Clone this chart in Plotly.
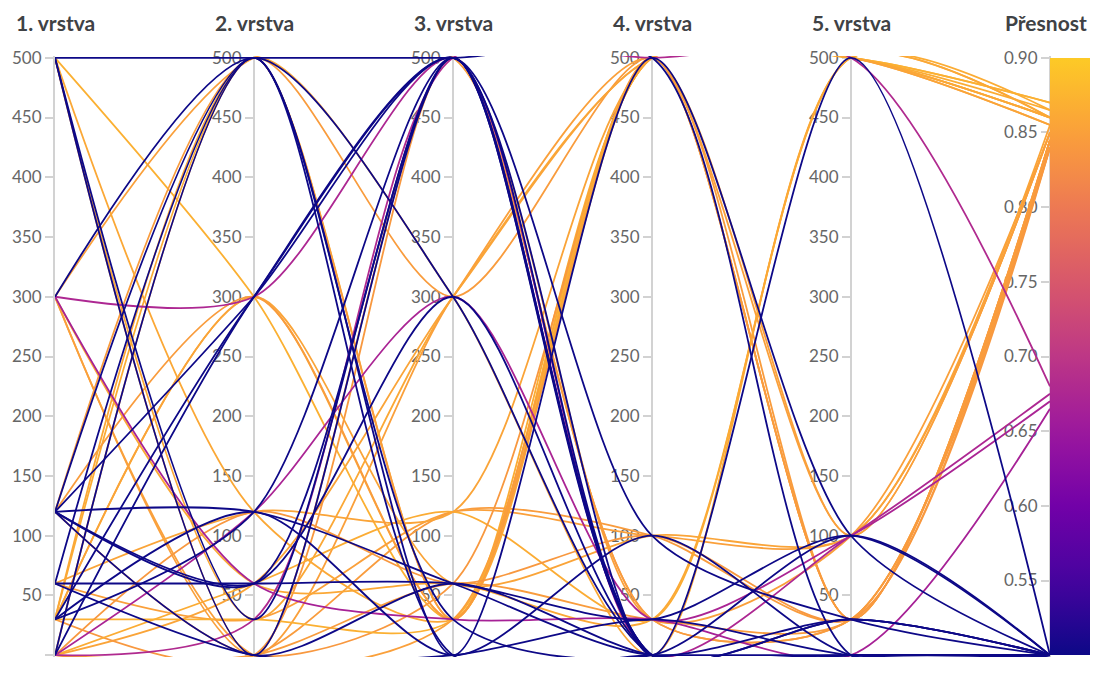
import plotly.graph_objects as go
from plotly.colors import sample_colorscale

axis_titles = ["1. vrstva", "2. vrstva", "3. vrstva", "4. vrstva", "5. vrstva", "Přesnost"]
layer_ticks = [0, 50, 100, 150, 200, 250, 300, 350, 400, 450, 500]
acc_ticks = [0.50, 0.55, 0.60, 0.65, 0.70, 0.75, 0.80, 0.85, 0.90]

vrstva1 = [500, 500, 500, 300, 120, 120, 120, 120, 60, 30, 0, 60, 120, 30, 0, 120, 30, 60,
           300, 0, 300, 0,
           500, 30, 30, 0, 500, 300, 120, 0, 30, 300, 500, 60, 0, 30, 300, 0, 120, 30, 300, 500, 0, 60, 120, 0, 30]
vrstva2 = [500, 0, 30, 500, 500, 300, 120, 60, 500, 300, 500, 0, 0, 120, 300, 60, 120, 60,
           300, 120, 60, 30,
           300, 500, 300, 500, 30, 0, 500, 60, 0, 500, 0, 30, 0, 300, 60, 60, 0, 30, 0, 120, 0, 120, 300, 120, 500]
vrstva3 = [500, 500, 500, 300, 0, 500, 60, 500, 0, 500, 30, 0, 60, 500, 500, 300, 0, 60,
           500, 300, 30, 500,
           30, 30, 30, 30, 300, 300, 300, 300, 500, 500, 500, 120, 120, 60, 60, 120, 60, 30, 30, 30, 60, 120, 30, 60, 300]
vrstva4 = [500, 0, 0, 0, 500, 0, 0, 0, 0, 100, 0, 30, 0, 0, 0, 0, 100, 30,
           0, 30, 30, 500,
           500, 500, 500, 500, 500, 500, 500, 500, 30, 30, 30, 100, 100, 100, 30, 30, 500, 500, 500, 500, 30, 500, 500, 100, 0]
vrstva5 = [0, 0, 30, 0, 100, 0, 30, 0, 0, 30, 100, 0, 0, 30, 500, 0, 0, 100,
           100, 100, 0, 500,
           500, 500, 500, 30, 500, 100, 30, 500, 30, 100, 30, 100, 30, 100, 500, 500, 30, 500, 100, 500, 30, 500, 30, 30, 500]
presnost = [0.50] * 18 + [0.675, 0.67, 0.665, 0.68] + [
    0.87, 0.865, 0.86, 0.845, 0.86, 0.85, 0.845, 0.855, 0.84, 0.85, 0.845, 0.85, 0.845, 0.855,
    0.86, 0.865, 0.84, 0.87, 0.85, 0.86, 0.845, 0.855, 0.845, 0.84, 0.86]

# colour scale: plasma, its lower 89 %
stops = [i / 20 for i in range(21)]
scale_cols = sample_colorscale("Plasma", [s * 0.89 for s in stops])
cscale = [[s, c] for s, c in zip(stops, scale_cols)]

ACC_MIN, ACC_MAX = 0.5, 0.9
LMAX = 500
PAD = 1.5

W, H = 1082, 657
M_L, M_R, M_T, M_B = 47, 40, 48, 8
plot_h = H - M_T - M_B

def acc_to_layer_scale(a):
    return (a - ACC_MIN) / (ACC_MAX - ACC_MIN) * LMAX

fig = go.Figure()

n = len(presnost)
order = [i for i in range(n) if presnost[i] > 0.8] + \
        [i for i in range(n) if 0.6 <= presnost[i] <= 0.8] + \
        [i for i in range(n) if presnost[i] < 0.6]
for i in order:
    ys = [vrstva1[i], vrstva2[i], vrstva3[i], vrstva4[i], vrstva5[i], acc_to_layer_scale(presnost[i])]
    col = sample_colorscale(cscale, [(presnost[i] - ACC_MIN) / (ACC_MAX - ACC_MIN)])[0]
    fig.add_trace(go.Scatter(
        x=list(range(6)), y=ys, mode="lines",
        line=dict(color=col, width=1.8, shape="spline", smoothing=0.8),
        hoverinfo="skip", showlegend=False))

# colorbar holder
fig.add_trace(go.Scatter(
    x=[None, None], y=[None, None], mode="markers", showlegend=False, hoverinfo="skip",
    marker=dict(color=[ACC_MIN, ACC_MAX], cmin=ACC_MIN, cmax=ACC_MAX, colorscale=cscale,
                showscale=True,
                colorbar=dict(x=1, xanchor="left", xpad=0, thickness=M_R,
                              len=LMAX / (LMAX + 2 * PAD), lenmode="fraction",
                              y=0.5, yanchor="middle", ypad=0,
                              outlinewidth=0, showticklabels=False, ticks=""))))

tick_font = dict(family="Lato", size=17, color="#666666")
axis_style = dict(showgrid=False, zeroline=False, showline=True, linecolor="#d2d2d2",
                  linewidth=2, ticks="outside", ticklen=8, tickwidth=2, tickcolor="#d2d2d2",
                  tickfont=tick_font, layer="below traces", fixedrange=True,
                  automargin=False)

layout = dict(
    width=W, height=H,
    margin=dict(l=M_L, r=M_R, t=M_T, b=M_B, autoexpand=False),
    plot_bgcolor="white", paper_bgcolor="white",
    xaxis=dict(range=[0, 5], visible=False, fixedrange=True, automargin=False),
    yaxis=dict(range=[-PAD, LMAX + PAD], tickvals=layer_ticks, **axis_style),
)
for k in range(1, 5):
    layout[f"yaxis{k + 1}"] = dict(range=[-PAD, LMAX + PAD], tickvals=layer_ticks,
                                   overlaying="y", anchor="free", position=k / 5,
                                   side="left", **axis_style)
acc_pad = PAD / LMAX * (ACC_MAX - ACC_MIN)
layout["yaxis6"] = dict(range=[ACC_MIN - acc_pad, ACC_MAX + acc_pad], tickvals=acc_ticks,
                        tickformat=".2f", overlaying="y", anchor="free", position=1,
                        side="left", **axis_style)
fig.update_layout(**layout)

# dummy traces to make the extra axes render
for k in range(2, 7):
    fig.add_trace(go.Scatter(x=[None], y=[None], yaxis=f"y{k}", showlegend=False,
                             hoverinfo="skip"))

title_y = 1 + (M_T - 14) / plot_h
for k, t in enumerate(axis_titles):
    last = k == len(axis_titles) - 1
    fig.add_annotation(x=k / 5, xref="paper", y=title_y, yref="paper",
                       text=f"<b>{t}</b>", showarrow=False,
                       xanchor="right" if last else "center",
                       xshift=M_R - 1 if last else 0,
                       yanchor="middle", font=dict(family="Lato", size=21, color="#3f4245"))

fig.write_html("out.html", config={"displayModeBar": False})
